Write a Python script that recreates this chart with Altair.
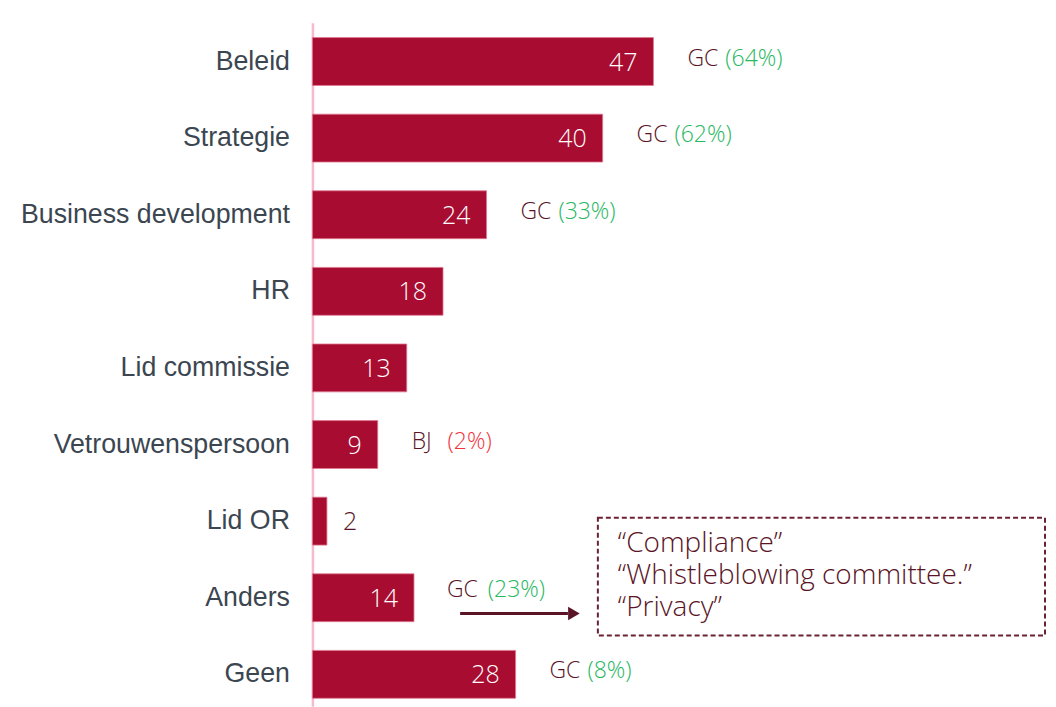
import altair as alt
import pandas as pd

categories = ["Beleid", "Strategie", "Business development", "HR", "Lid commissie",
              "Vetrouwenspersoon", "Lid OR", "Anders", "Geen"]
values = [47, 40, 24, 18, 13, 9, 2, 14, 28]
prefixes = ["GC", "GC", "GC", "", "", "BJ", "", "GC", "GC"]
percents = ["(64%)", "(62%)", "(33%)", "", "", "(2%)", "", "(23%)", "(8%)"]
callout_lines = ["\u201cCompliance\u201d", "\u201cWhistleblowing committee.\u201d", "\u201cPrivacy\u201d"]

BAR = "#a80c30"
MAROON = "#5a1426"
GREEN = "#27b862"
RED = "#f0343c"
AXIS = "#f6bccb"
LABEL = "#3b4651"
FONT = "Open Sans"
FW = 300

df = pd.DataFrame({"cat": categories, "val": values, "pre": prefixes, "pct": percents})

W, H = 727, 685
xs = alt.Scale(domain=[0, 100], nice=False)
x = alt.X("val:Q", scale=xs, axis=None)
y = alt.Y("cat:N", sort=categories, title=None,
          scale=alt.Scale(paddingInner=0.375, paddingOuter=0.15, align=0.65),
          axis=alt.Axis(ticks=False, labelFont="Liberation Sans", labelFontSize=26.8,
                        labelColor=LABEL, labelPadding=23, domainColor=AXIS,
                        domainWidth=2.5, labelLimit=400))

base = alt.Chart(df).encode(y=y)

bars = base.mark_bar(color=BAR, stroke="#e07a92", strokeWidth=0.8).encode(x=x)

inside = base.transform_filter("datum.val >= 5").mark_text(
    align="right", dx=-16, font=FONT, fontWeight=FW, fontSize=25, color="white", dy=1).encode(
    x=x, text="val:Q")
outside = base.transform_filter("datum.val < 5").mark_text(
    align="left", dx=16, font=FONT, fontWeight=FW, fontSize=25, color=MAROON, dy=1).encode(
    x=x, text="val:Q")

main_ann = "datum.pre != '' && datum.cat != 'Anders'"
pre_txt = base.transform_filter(main_ann).mark_text(
    align="left", dx=34, dy=-3, font=FONT, fontWeight=FW, fontSize=23, color=MAROON).encode(
    x=x, text="pre:N")
pct_gc = base.transform_filter(main_ann + " && datum.pre == 'GC'").mark_text(
    align="left", dx=72, dy=-3, font=FONT, fontWeight=FW, fontSize=23, color=GREEN).encode(
    x=x, text="pct:N")
pct_bj = base.transform_filter(main_ann + " && datum.pre == 'BJ'").mark_text(
    align="left", dx=70, dy=-3, font=FONT, fontWeight=FW, fontSize=23, color=RED).encode(
    x=x, text="pct:N")

anders = base.transform_filter("datum.cat == 'Anders'")
pre_and = anders.mark_text(align="left", dx=33, dy=-8, font=FONT, fontWeight=FW, fontSize=23,
                           color=MAROON).encode(x=x, text="pre:N")
pct_and = anders.mark_text(align="left", dx=74, dy=-8, font=FONT, fontWeight=FW, fontSize=23,
                           color=GREEN).encode(x=x, text="pct:N")

# callout arrow and box (annotation, pixel placement)
one = pd.DataFrame({"k": [0]})
arrow_line = alt.Chart(one).mark_rule(color=MAROON, strokeWidth=3).encode(
    x=alt.value(148), x2=alt.value(256), y=alt.value(592))
arrow_head = alt.Chart(one).mark_point(
    shape="triangle-right", filled=True, color=MAROON, size=180, opacity=1).encode(
    x=alt.value(262), y=alt.value(592))
box = alt.Chart(one).mark_rect(
    fill=None, stroke="#6b2233", strokeWidth=2, strokeDash=[5, 3]).encode(
    x=alt.value(286), x2=alt.value(734), y=alt.value(496), y2=alt.value(614))

box_texts = []
for i, line in enumerate(callout_lines):
    box_texts.append(alt.Chart(pd.DataFrame({"line": [line]})).mark_text(
        align="left", baseline="middle", font=FONT, fontWeight=FW, fontSize=28,
        color=MAROON).encode(
        x=alt.value(306), y=alt.value(522 + 32 * i), text="line:N"))

chart = alt.layer(bars, inside, outside, pre_txt, pct_gc, pct_bj, pre_and, pct_and,
                  arrow_line, arrow_head, box, *box_texts).properties(
    width=W, height=H, autosize="none", background="white",
    padding={"left": 305, "top": 14, "right": 10, "bottom": 0}
).configure_view(stroke="transparent", strokeWidth=0)

chart.save("out.html", embed_options={"renderer": "svg", "actions": False})
